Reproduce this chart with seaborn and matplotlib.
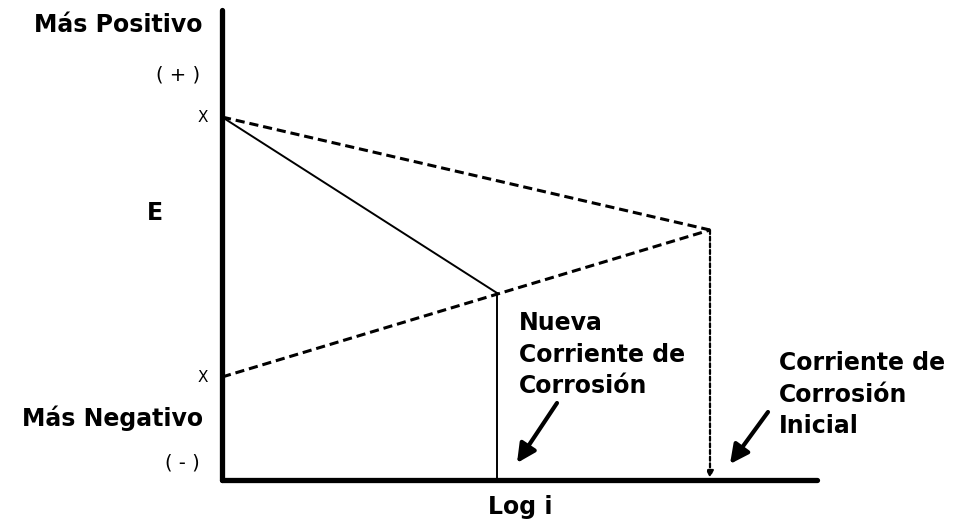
import matplotlib
matplotlib.use("Agg")
import matplotlib.pyplot as plt
import seaborn as sns
import pandas as pd

sns.set_theme(style="white")
plt.rcParams["font.family"] = ["DejaVu Sans"]

# Evans diagram values (log i on x, potential E on y, arbitrary units)
e_anode = 363          # open-circuit potential of the anode (Más Positivo side)
e_cathode = 103        # open-circuit potential of the cathode (Más Negativo side)
initial_point = (488, 250)   # initial corrosion point (log i, E)
new_point = (275, 187)       # new corrosion point after polarization
axis_len_x = 595
axis_len_y = 470

anodic = pd.DataFrame({"logi": [0, initial_point[0]], "E": [e_anode, initial_point[1]]})
cathodic = pd.DataFrame({"logi": [0, initial_point[0]], "E": [e_cathode, initial_point[1]]})
polarized = pd.DataFrame({"logi": [0, new_point[0]], "E": [e_anode, new_point[1]]})
new_drop = pd.DataFrame({"logi": [new_point[0], new_point[0]], "E": [new_point[1], 0]})

fig = plt.figure(figsize=(9.59, 5.27), dpi=100)
ax = fig.add_axes([0, 0, 1, 1])
ax.set_xlim(-222, 737)
ax.set_ylim(-47, 480)
ax.axis("off")

# axes of the diagram
ax.plot([0, 0], [0, axis_len_y], color="black", lw=3.8, solid_capstyle="round")
ax.plot([0, axis_len_x], [0, 0], color="black", lw=3.8, solid_capstyle="round")

# polarization lines
line_kw = dict(ax=ax, color="black", sort=False, estimator=None, legend=False)
sns.lineplot(data=anodic, x="logi", y="E", lw=2.2, linestyle=(0, (3, 1.6)), **line_kw)
sns.lineplot(data=cathodic, x="logi", y="E", lw=2.2, linestyle=(0, (3, 1.6)), **line_kw)
sns.lineplot(data=polarized, x="logi", y="E", lw=1.4, **line_kw)
sns.lineplot(data=new_drop, x="logi", y="E", lw=1.4, **line_kw)

# dotted drop from the initial intersection to the log i axis
ax.annotate("", xy=(initial_point[0], 2), xytext=(initial_point[0], initial_point[1]),
            arrowprops=dict(arrowstyle="-|>", color="black", lw=1.6, linestyle=(0, (1.8, 1.2)),
                            mutation_scale=10, shrinkA=0, shrinkB=0))

# thick pointer arrows
for tail, head in [((335, 77), (295, 17)), ((546, 68), (508, 16))]:
    ax.annotate("", xy=head, xytext=tail,
                arrowprops=dict(arrowstyle="-|>,head_length=0.8,head_width=0.4",
                                color="black", lw=3, mutation_scale=14,
                                shrinkA=0, shrinkB=0))

bold = dict(fontsize=17, fontweight="bold", color="black")
thin = dict(fontsize=14, color="black")
ax.text(-19, 455, "Más Positivo", ha="right", va="center", **bold)
ax.text(-22, 405, "( + )", ha="right", va="center", **thin)
ax.text(-14, e_anode, "X", ha="right", va="center", fontsize=11, color="black")
ax.text(-67, 267, "E", ha="center", va="center", **bold)
ax.text(-14, e_cathode, "X", ha="right", va="center", fontsize=11, color="black")
ax.text(-19, 62, "Más Negativo", ha="right", va="center", **bold)
ax.text(-22, 17, "( - )", ha="right", va="center", **thin)
ax.text(298, -27, "Log i", ha="center", va="center", **bold)
ax.text(297, 169, "Nueva\nCorriente de\nCorrosión", ha="left", va="top",
        linespacing=1.4, **bold)
ax.text(557, 129, "Corriente de\nCorrosión\nInicial", ha="left", va="top",
        linespacing=1.4, **bold)

fig.savefig("out.png", dpi=100, facecolor="white")
